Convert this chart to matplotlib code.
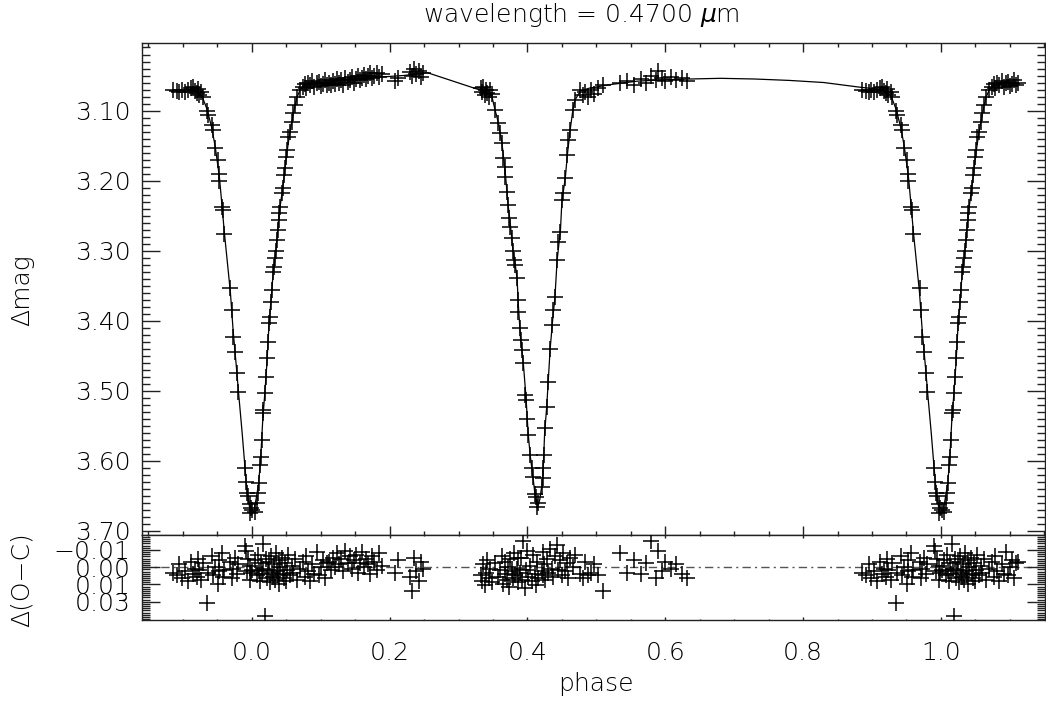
import numpy as np
import matplotlib
matplotlib.use('Agg')
import matplotlib.pyplot as plt
from matplotlib import font_manager
from matplotlib.ticker import MultipleLocator, FixedLocator, FormatStrFormatter

# --- dati (fase base 0..1) ---

# ingresso eclisse primaria (mostrata anche a fase-1)
ph_ing = [0.886, 0.892, 0.895, 0.899, 0.903, 0.908, 0.912, 0.915, 0.917, 0.920,
          0.922, 0.924, 0.927, 0.929, 0.935, 0.936, 0.942, 0.943, 0.947, 0.951,
          0.952, 0.953, 0.957, 0.958, 0.959, 0.969, 0.971, 0.973, 0.976, 0.979,
          0.980, 0.990, 0.991, 0.993, 0.994, 0.997, 0.998, 0.999]
mag_ing = [3.071, 3.072, 3.074, 3.071, 3.073, 3.070, 3.068, 3.066, 3.072, 3.075,
           3.069, 3.078, 3.074, 3.080, 3.100, 3.106, 3.120, 3.128, 3.153, 3.170,
           3.190, 3.200, 3.238, 3.242, 3.276, 3.353, 3.385, 3.423, 3.445, 3.475,
           3.502, 3.610, 3.630, 3.646, 3.650, 3.662, 3.675, 3.668]
res_ing = [0.004, 0.006, -0.002, 0.008, 0.003, 0.010, -0.004, 0.005, 0.001, 0.007,
           -0.006, 0.002, 0.009, -0.003, 0.026, 0.004, -0.008, 0.006, 0.000, 0.012,
           -0.005, 0.003, -0.010, 0.007, 0.002, -0.004, 0.008, 0.001, -0.007, 0.005,
           -0.002, -0.015, -0.012, 0.003, -0.006, 0.009, -0.001, 0.004]

# uscita eclisse primaria (mostrata anche a fase+1)
ph_egr = [0.001, 0.005, 0.008, 0.009, 0.010, 0.012, 0.013, 0.015, 0.016, 0.017,
          0.019, 0.021, 0.022, 0.024, 0.025, 0.026, 0.028, 0.029, 0.031, 0.032,
          0.034, 0.035, 0.037, 0.038, 0.039, 0.040, 0.041, 0.044, 0.045, 0.047,
          0.048, 0.050, 0.051, 0.053, 0.056, 0.058, 0.060, 0.063, 0.066, 0.070,
          0.074, 0.077, 0.079, 0.082, 0.085, 0.088, 0.091, 0.094, 0.097, 0.100,
          0.103, 0.106, 0.109]
mag_egr = [3.670, 3.673, 3.660, 3.646, 3.632, 3.606, 3.595, 3.570, 3.532, 3.528,
           3.503, 3.480, 3.454, 3.430, 3.403, 3.395, 3.373, 3.356, 3.330, 3.323,
           3.310, 3.300, 3.285, 3.270, 3.256, 3.246, 3.238, 3.218, 3.210, 3.192,
           3.182, 3.166, 3.156, 3.138, 3.130, 3.116, 3.103, 3.092, 3.080, 3.070,
           3.066, 3.062, 3.068, 3.060, 3.064, 3.058, 3.066, 3.061, 3.059, 3.065,
           3.062, 3.057, 3.063]
res_egr = [0.002, -0.005, 0.006, -0.009, 0.003, 0.010, -0.003, 0.005, -0.017, 0.001,
           0.035, -0.006, 0.008, 0.002, -0.004, 0.011, -0.008, 0.004, 0.007, -0.002,
           0.009, -0.010, 0.003, 0.006, -0.005, 0.012, 0.000, -0.007, 0.005, 0.008,
           -0.003, 0.010, 0.002, -0.009, 0.006, -0.001, 0.004, -0.006, 0.009, 0.001,
           -0.004, 0.007, -0.008, 0.003, 0.010, -0.002, 0.005, -0.011, 0.006, 0.000,
           -0.005, 0.008, -0.003]

# fuori eclisse dopo la primaria
ph_out = [0.112, 0.115, 0.118, 0.121, 0.124, 0.127, 0.130, 0.133, 0.136, 0.139,
          0.142, 0.145, 0.148, 0.151, 0.154, 0.157, 0.160, 0.163, 0.166, 0.169,
          0.172, 0.175, 0.178, 0.181, 0.185, 0.189, 0.208, 0.212, 0.230, 0.233,
          0.236, 0.239, 0.242, 0.245, 0.248]
mag_out = [3.060, 3.064, 3.058, 3.062, 3.055, 3.061, 3.057, 3.063, 3.054, 3.059,
           3.056, 3.052, 3.060, 3.055, 3.050, 3.057, 3.053, 3.049, 3.055, 3.051,
           3.047, 3.054, 3.050, 3.046, 3.052, 3.048, 3.058, 3.053, 3.045, 3.050,
           3.040, 3.048, 3.043, 3.052, 3.046]
res_out = [-0.004, 0.002, -0.007, 0.000, -0.010, -0.002, -0.006, 0.003, -0.012, -0.003,
           -0.008, 0.001, -0.005, -0.009, 0.004, -0.003, -0.011, 0.000, -0.006, -0.002,
           0.005, -0.008, -0.004, 0.002, -0.010, -0.001, 0.004, -0.005, 0.007, 0.017,
           -0.007, 0.003, 0.010, -0.004, 0.001]

# eclisse secondaria e fuori eclisse
ph_sec = [0.332, 0.334, 0.336, 0.338, 0.340, 0.342, 0.344, 0.346, 0.348, 0.353,
          0.358, 0.360, 0.363, 0.365, 0.367, 0.368, 0.371, 0.372, 0.374, 0.375,
          0.378, 0.379, 0.381, 0.382, 0.385, 0.386, 0.387, 0.389, 0.390, 0.392,
          0.394, 0.397, 0.398, 0.400, 0.401, 0.404, 0.407, 0.408, 0.411, 0.412,
          0.414, 0.415, 0.421, 0.422, 0.423, 0.424, 0.425, 0.428, 0.430, 0.433,
          0.436, 0.437, 0.440, 0.443, 0.445, 0.448, 0.450, 0.452, 0.455, 0.458,
          0.459, 0.462, 0.466, 0.469, 0.477, 0.480, 0.484, 0.488, 0.492, 0.497,
          0.503, 0.510, 0.535, 0.545, 0.555, 0.565, 0.572, 0.580, 0.586, 0.590,
          0.595, 0.600, 0.608, 0.615, 0.625, 0.632]
mag_sec = [3.068, 3.073, 3.066, 3.078, 3.071, 3.075, 3.080, 3.070, 3.077, 3.099,
           3.118, 3.132, 3.146, 3.168, 3.180, 3.195, 3.216, 3.235, 3.253, 3.266,
           3.282, 3.300, 3.313, 3.320, 3.339, 3.370, 3.387, 3.410, 3.428, 3.442,
           3.460, 3.506, 3.513, 3.540, 3.563, 3.592, 3.610, 3.623, 3.647, 3.652,
           3.666, 3.660, 3.637, 3.624, 3.610, 3.592, 3.553, 3.523, 3.487, 3.440,
           3.406, 3.385, 3.366, 3.313, 3.288, 3.273, 3.228, 3.218, 3.196, 3.163,
           3.142, 3.128, 3.099, 3.085, 3.070, 3.078, 3.074, 3.080, 3.071, 3.076,
           3.068, 3.064, 3.060, 3.058, 3.063, 3.055, 3.060, 3.050, 3.056, 3.043,
           3.053, 3.058, 3.052, 3.056, 3.054, 3.058]
res_sec = [0.006, 0.010, -0.002, 0.013, 0.004, -0.005, 0.008, 0.001, 0.011, -0.003,
           0.007, 0.002, -0.008, 0.012, 0.005, -0.004, 0.009, 0.000, 0.014, -0.006,
           0.003, 0.008, -0.010, 0.006, 0.001, -0.007, 0.011, 0.004, -0.007, 0.009,
           -0.019, 0.015, 0.002, -0.012, 0.007, -0.001, 0.010, -0.009, 0.005, 0.013,
           -0.004, 0.008, 0.003, -0.011, 0.006, -0.002, 0.009, -0.006, 0.004, -0.013,
           0.001, 0.007, -0.008, -0.016, 0.002, -0.005, 0.006, -0.010, 0.003, -0.003,
           0.008, -0.007, 0.000, -0.009, 0.005, 0.008, -0.004, 0.006, 0.004, -0.002,
           0.006, 0.017, -0.010, 0.004, -0.005, 0.005, -0.003, -0.019, 0.008, -0.012,
           0.003, -0.004, 0.001, -0.002, 0.005, 0.008]

# modello (linea continua)
ph_mod = [0.000, 0.003, 0.006, 0.010, 0.013, 0.016, 0.019, 0.022, 0.025, 0.028,
          0.031, 0.035, 0.038, 0.041, 0.045, 0.048, 0.051, 0.055, 0.058, 0.063,
          0.066, 0.070, 0.077, 0.090, 0.110, 0.125, 0.150, 0.190, 0.220, 0.255,
          0.332, 0.340, 0.348, 0.353, 0.358, 0.363, 0.368, 0.372, 0.375, 0.379,
          0.382, 0.385, 0.387, 0.390, 0.394, 0.398, 0.401, 0.404, 0.408, 0.411,
          0.414, 0.416, 0.418, 0.421, 0.423, 0.425, 0.428, 0.430, 0.433, 0.437,
          0.440, 0.443, 0.448, 0.450, 0.455, 0.458, 0.462, 0.466, 0.469, 0.477,
          0.490, 0.520, 0.560, 0.600, 0.635, 0.680, 0.730, 0.780, 0.830, 0.885,
          0.905, 0.920, 0.928, 0.935, 0.942, 0.947, 0.953, 0.957, 0.960, 0.969,
          0.973, 0.978, 0.981, 0.986, 0.990, 0.993, 0.997]
mag_mod = [3.677, 3.672, 3.656, 3.632, 3.595, 3.540, 3.503, 3.460, 3.405, 3.370,
           3.332, 3.300, 3.265, 3.238, 3.210, 3.185, 3.160, 3.133, 3.116, 3.092,
           3.080, 3.071, 3.064, 3.062, 3.060, 3.057, 3.055, 3.052, 3.050, 3.046,
           3.071, 3.074, 3.078, 3.099, 3.118, 3.146, 3.190, 3.235, 3.260, 3.300,
           3.317, 3.340, 3.380, 3.425, 3.460, 3.510, 3.560, 3.592, 3.623, 3.648,
           3.663, 3.663, 3.655, 3.635, 3.610, 3.560, 3.523, 3.490, 3.440, 3.395,
           3.366, 3.315, 3.270, 3.230, 3.196, 3.163, 3.128, 3.099, 3.085, 3.072,
           3.068, 3.063, 3.058, 3.056, 3.055, 3.054, 3.055, 3.057, 3.060, 3.067,
           3.069, 3.072, 3.080, 3.098, 3.125, 3.152, 3.195, 3.238, 3.272, 3.360,
           3.415, 3.470, 3.505, 3.560, 3.608, 3.642, 3.668]

TITOLO = 'wavelength = 0.4700 $\\mu$m'
FS = 18

# --- font sottile, stile IDL ---
fam, wt = 'DejaVu Sans', 'normal'
for nome in ['DejaVu Sans', 'Roboto', 'Open Sans', 'Lato', 'Noto Sans', 'Inter']:
    pesi = []
    for f in font_manager.fontManager.ttflist:
        w = f.weight if isinstance(f.weight, int) else font_manager.weight_dict.get(f.weight, 400)
        if f.name == nome and f.style == 'normal' and w <= 300:
            pesi.append(w)
    if pesi:
        fam, wt = nome, max(pesi)
        break
plt.rcParams['font.family'] = [fam, 'DejaVu Sans']
plt.rcParams['font.weight'] = wt
plt.rcParams['mathtext.fontset'] = 'custom'
plt.rcParams['mathtext.rm'] = fam
plt.rcParams['mathtext.it'] = fam + ':italic'


def piega(ph, *vals):
    # ripete i punti vicino alla fase 0 anche a fase -1 / +1
    ph = np.asarray(ph)
    lo = ph > 0.885
    hi = ph < 0.115
    out = [np.concatenate([ph, ph[lo] - 1, ph[hi] + 1])]
    for v in vals:
        v = np.asarray(v)
        out.append(np.concatenate([v, v[lo], v[hi]]))
    return out


ph_obs = np.concatenate([ph_ing, ph_egr, ph_out, ph_sec])
mag_obs = np.concatenate([mag_ing, mag_egr, mag_out, mag_sec])
res_obs = np.concatenate([res_ing, res_egr, res_out, res_sec])
ph_p, mag_p, res_p = piega(ph_obs, mag_obs, res_obs)
ph_m, mag_m = piega(ph_mod, mag_mod)
ordine = np.argsort(ph_m)
ph_m, mag_m = ph_m[ordine], mag_m[ordine]

# --- grafico ---
fig = plt.figure(figsize=(10.46, 7.04), dpi=100)
ax1 = fig.add_axes([0.1355, 0.2401, 0.8636, 0.6984])
ax2 = fig.add_axes([0.1355, 0.1193, 0.8636, 0.1208], sharex=ax1)

ax1.plot(ph_m, mag_m, color='black', lw=0.9, zorder=2)
ax1.plot(ph_p, mag_p, ls='none', marker='+', ms=11, mew=1.1, color='black', zorder=3)
ax2.axhline(0.0, color='#555555', lw=1.0, ls=(0, (6, 3, 1.5, 3)), zorder=1)
ax2.plot(ph_p, res_p, ls='none', marker='+', ms=11, mew=1.1, color='black', zorder=3)

ax1.set_xlim(-0.1597, 1.1512)
ax1.set_ylim(3.706, 3.004)
ax2.set_ylim(0.0382, -0.0233)

for ax in (ax1, ax2):
    for s in ax.spines.values():
        s.set_linewidth(1.0)
        s.set_color('#222222')
    ax.xaxis.set_major_locator(MultipleLocator(0.2))
    ax.xaxis.set_minor_locator(MultipleLocator(0.05))
    ax.tick_params(which='both', direction='in', top=True, right=True,
                   colors='#222222', labelcolor='black', labelsize=FS, width=1.0)
    ax.tick_params(axis='y', which='major', length=12.7, pad=8.0)
    ax.tick_params(axis='y', which='minor', length=5.8)

ax1.yaxis.set_major_locator(FixedLocator(np.arange(3.1, 3.705, 0.1)))
ax1.yaxis.set_major_formatter(FormatStrFormatter('%.2f'))
ax1.yaxis.set_minor_locator(MultipleLocator(0.01))
ax1.tick_params(axis='x', which='major', length=6.5)
ax1.tick_params(axis='x', which='minor', length=3)
ax1.tick_params(labelbottom=False)

ax2.yaxis.set_major_locator(FixedLocator([-0.0125, 0.0, 0.0125, 0.025]))
ax2.set_yticklabels(['\u22120.01', '0.00', '0.01', '0.03'])
ax2.yaxis.set_minor_locator(MultipleLocator(0.0015625))
ax2.tick_params(axis='x', which='major', length=2, pad=15)
ax2.tick_params(axis='x', which='minor', length=1)
ax2.xaxis.set_major_formatter(FormatStrFormatter('%.1f'))

fig.text(0.556, 0.979, TITOLO, ha='center', va='center', fontsize=FS)
fig.text(0.021, 0.588, '\u0394mag', ha='center', va='center', rotation=90, fontsize=FS)
fig.text(0.021, 0.177, '\u0394(O\u2212C)', ha='center', va='center', rotation=90, fontsize=FS)
fig.text(0.570, 0.0284, 'phase', ha='center', va='center', fontsize=FS)

fig.savefig('out.png', dpi=100)
